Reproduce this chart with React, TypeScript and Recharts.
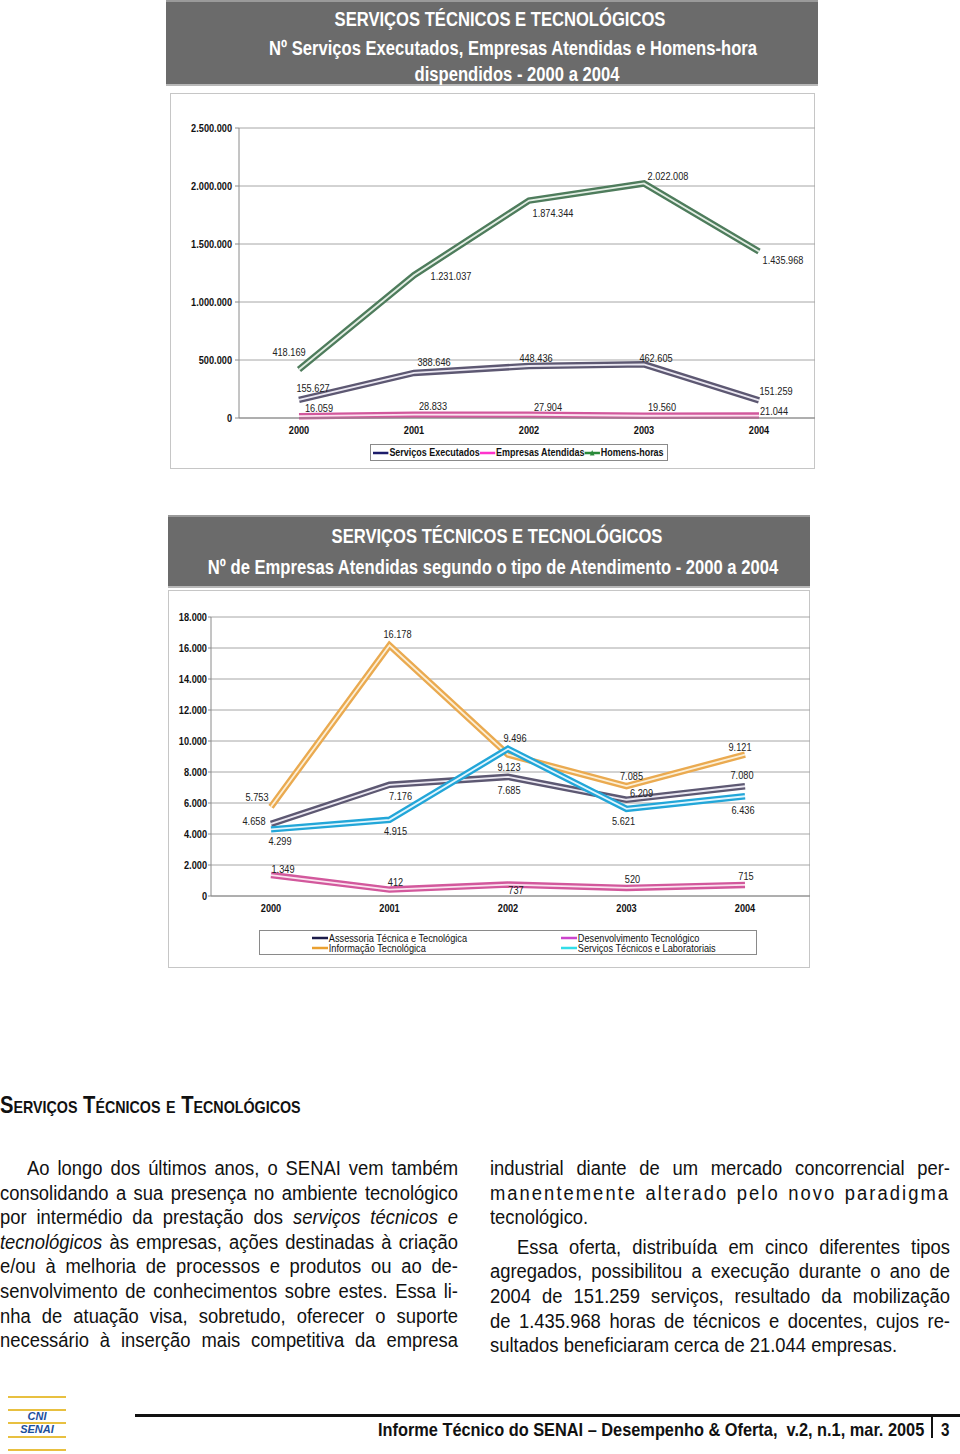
import React from 'react';
import { LineChart, Line, XAxis, YAxis, CartesianGrid } from 'recharts';

const years = ['2000', '2001', '2002', '2003', '2004'];

// Chart 1: serviços, empresas e homens-hora
const servicosExecutados = [155627, 388646, 448436, 462605, 151259];
const empresasAtendidas = [16059, 28833, 27904, 19560, 21044];
const homensHoras = [418169, 1231037, 1874344, 2022008, 1435968];
const ticks1 = [0, 500000, 1000000, 1500000, 2000000, 2500000];

// Chart 2: empresas por tipo de atendimento
const assessoria = [4658, 7176, 7685, 6209, 7080];
const desenvolvimento = [1349, 412, 737, 520, 715];
const informacao = [5753, 16178, 9123, 7085, 9121];
const servicosLab = [4299, 4915, 9496, 5621, 6436];
const ticks2 = [0, 2000, 4000, 6000, 8000, 10000, 12000, 14000, 16000, 18000];

const data1 = years.map((y, i) => ({
  ano: y,
  servicos: servicosExecutados[i],
  empresas: empresasAtendidas[i],
  homens: homensHoras[i],
}));

const data2 = years.map((y, i) => ({
  ano: y,
  assessoria: assessoria[i],
  desenvolvimento: desenvolvimento[i],
  informacao: informacao[i],
  servicosLab: servicosLab[i],
}));

// no narrow font installed, so Liberation Sans gets squeezed horizontally
const FONT = '"Liberation Sans", Arial, sans-serif';
const SQ = 0.8;

const fmt = (v: number) => String(v).replace(/\B(?=(\d{3})+(?!\d))/g, '.');

// label offsets (dx, dy) from each point
const offHomens = [[-10, -18], [37, 1], [24, 12], [24, -7], [24, 9]];
const offServicos = [[14, -12], [20, -11], [7, -8], [12, -6], [17, -9]];
const offEmpresas = [[20, -8], [19, -9], [19, -8], [18, -9], [15, -5]];

const offInfo = [[-14, -10], [8, -11], [1, 12], [5, -10], [-5, -8]];
const offAssess = [[-17, -3], [11, 11], [1, 13], [15, -7], [-3, -11]];
const offLab = [[9, 12], [6, 11], [7, -11], [-3, 12], [-2, 14]];
const offDesenv = [[12, -6], [6, -8], [8, 5], [6, -9], [1, -9]];

const makeLabel = (offsets: number[][]) => (props: any) => {
  const x = props.x ?? props.viewBox?.x;
  const y = props.y ?? props.viewBox?.y;
  const i = props.index ?? 0;
  const [dx, dy] = offsets[i] || [0, 0];
  if (x == null || y == null) return null;
  return (
    <text
      transform={`translate(${x + dx},${y + dy}) scale(${SQ},1)`}
      textAnchor="middle"
      dy="0.35em"
      fontSize={11.5}
      fontFamily={FONT}
      fill="#222"
    >
      {fmt(props.value)}
    </text>
  );
};

const YTick = (props: any) => (
  <text
    transform={`translate(${props.x},${props.y}) scale(${SQ},1)`}
    textAnchor="end"
    dy="0.35em"
    fontSize={11.5}
    fontWeight={700}
    fontFamily={FONT}
    fill="#111"
  >
    {fmt(props.payload.value)}
  </text>
);

const XTick = (props: any) => (
  <text
    transform={`translate(${props.x},${props.y}) scale(${SQ},1)`}
    textAnchor="middle"
    dy="0.71em"
    fontSize={11.5}
    fontWeight={700}
    fontFamily={FONT}
    fill="#111"
  >
    {props.payload.value}
  </text>
);

const TitleBox = ({ left, top, width, height, lines, tops, center }: any) => (
  <div
    style={{
      position: 'absolute',
      left,
      top,
      width,
      height,
      background: '#6b6b6b',
      borderTop: '2px solid #9a9a9a',
      borderBottom: '2px solid #b8b8b8',
      boxSizing: 'border-box',
    }}
  >
    {lines.map((t: string, i: number) => (
      <span
        key={i}
        style={{
          position: 'absolute',
          left: center[i] - left,
          top: tops[i],
          whiteSpace: 'nowrap',
          transform: 'translateX(-50%) scaleX(0.83)',
          transformOrigin: '50% 50%',
          color: '#fff',
          fontFamily: FONT,
          fontWeight: 700,
          fontSize: 20,
          lineHeight: '22px',
        }}
      >
        {t}
      </span>
    ))}
  </div>
);

const LegendSwatch = ({ color, marker }: any) => (
  <svg width={20} height={8} style={{ marginRight: 1, flex: 'none' }}>
    <line x1={0} y1={4} x2={20} y2={4} stroke={color} strokeWidth={2.5} />
    {marker && <polygon points="10,1 13,6.5 7,6.5" fill={color} />}
  </svg>
);

const leftLines = [
  { t: 'Ao longo dos últimos anos, o SENAI vem também', indent: 27 },
  { t: 'consolidando a sua presença no ambiente tecnológico' },
  { t: 'por intermédio da prestação dos ', it: 'serviços técnicos e' },
  { it0: 'tecnológicos', t: ' às empresas, ações destinadas à criação' },
  { t: 'e/ou à melhoria de processos e produtos ou ao de-' },
  { t: 'senvolvimento de conhecimentos sobre estes. Essa li-' },
  { t: 'nha de atuação visa, sobretudo, oferecer o suporte' },
  { t: 'necessário  à  inserção  mais  competitiva da empresa' },
];

const rightLines = [
  { t: 'industrial diante de um mercado concorrencial per-', y: 0 },
  { t: 'manentemente alterado pelo novo paradigma', y: 1, spread: 2.2 },
  { t: 'tecnológico.', y: 2, last: true },
  { t: 'Essa oferta, distribuída em cinco diferentes tipos', y: 3, indent: 27, extra: 5 },
  { t: 'agregados, possibilitou a execução durante o ano de', y: 4, extra: 5 },
  { t: '2004 de 151.259 serviços, resultado da mobilização', y: 5, extra: 5 },
  { t: 'de 1.435.968 horas de técnicos e docentes, cujos re-', y: 6, extra: 5 },
  { t: 'sultados beneficiaram cerca de 21.044 empresas.', y: 7, extra: 5, last: true },
];

const BSQ = 0.92;
const bodyStyle = (left: number, top: number, width: number, indent: number, last: boolean): any => ({
  position: 'absolute',
  left: left + indent,
  top,
  width: (width - indent) / BSQ,
  transform: `scaleX(${BSQ})`,
  transformOrigin: '0 0',
  fontFamily: FONT,
  fontSize: 20,
  lineHeight: '24px',
  color: '#111',
  textAlign: last ? 'left' : 'justify',
  textAlignLast: last ? 'left' : 'justify',
});

export default function App() {
  return (
    <div
      style={{
        position: 'absolute',
        left: 0,
        top: 0,
        width: 960,
        height: 1454,
        background: '#fff',
        overflow: 'hidden',
      }}
    >
      <TitleBox
        left={166}
        top={0}
        width={652}
        height={86}
        center={[500, 513, 517]}
        tops={[6, 35, 61]}
        lines={[
          'SERVIÇOS TÉCNICOS E TECNOLÓGICOS',
          'Nº Serviços Executados,  Empresas Atendidas e Homens-hora',
          'dispendidos - 2000 a 2004',
        ]}
      />

      {/* chart 1 */}
      <div
        style={{
          position: 'absolute',
          left: 170,
          top: 93,
          width: 645,
          height: 376,
          border: '1px solid #c6c6c6',
          boxSizing: 'border-box',
        }}
      />
      <div style={{ position: 'absolute', left: 170, top: 93 }}>
        <LineChart
          width={645}
          height={376}
          data={data1}
          margin={{ top: 35, right: 0, left: 0, bottom: 0 }}
        >
          <CartesianGrid vertical={false} stroke="#a6a6a6" />
          <XAxis
            dataKey="ano"
            height={51}
            padding={{ left: 60, right: 56 }}
            tickLine={false}
            axisLine={{ stroke: '#8a8a8a' }}
            tick={XTick}
            tickMargin={2}
          />
          <YAxis
            width={69}
            domain={[0, 2500000]}
            ticks={ticks1}
            interval={0}
            tick={YTick}
            tickSize={4}
            tickMargin={3}
            axisLine={{ stroke: '#8a8a8a' }}
            tickLine={{ stroke: '#8a8a8a' }}
          />
          <Line dataKey="empresas" type="linear" stroke="#d2589c" strokeWidth={6.5} dot={false} isAnimationActive={false} />
          <Line dataKey="empresas" type="linear" stroke="#fbe3ef" strokeWidth={1.8} dot={false} isAnimationActive={false} label={makeLabel(offEmpresas)} />
          <Line dataKey="servicos" type="linear" stroke="#5d5872" strokeWidth={6.5} dot={false} isAnimationActive={false} />
          <Line dataKey="servicos" type="linear" stroke="#ebe8f2" strokeWidth={1.8} dot={false} isAnimationActive={false} label={makeLabel(offServicos)} />
          <Line dataKey="homens" type="linear" stroke="#4e7c5c" strokeWidth={6.5} dot={false} isAnimationActive={false} />
          <Line dataKey="homens" type="linear" stroke="#e3eee4" strokeWidth={1.8} dot={false} isAnimationActive={false} label={makeLabel(offHomens)} />
        </LineChart>
      </div>
      <div
        style={{
          position: 'absolute',
          left: 370,
          top: 444,
          width: 298,
          height: 17,
          border: '1px solid #8a8a8a',
          boxSizing: 'border-box',
          fontFamily: FONT,
          fontWeight: 700,
          fontSize: 11.5,
          color: '#111',
          whiteSpace: 'nowrap',
        }}
      >
        <div
          style={{
            position: 'absolute',
            left: 2,
            top: 1,
            display: 'flex',
            alignItems: 'center',
            lineHeight: '13px',
            transform: 'scaleX(0.78)',
            transformOrigin: '0 50%',
          }}
        >
          <LegendSwatch color="#1c1c6a" />
          <span>Serviços Executados</span>
          <LegendSwatch color="#ff33cc" />
          <span>Empresas Atendidas</span>
          <LegendSwatch color="#2a8a3a" marker />
          <span>Homens-horas</span>
        </div>
      </div>

      <TitleBox
        left={168}
        top={515}
        width={642}
        height={73}
        center={[497, 493]}
        tops={[8, 39]}
        lines={[
          'SERVIÇOS TÉCNICOS E TECNOLÓGICOS',
          'Nº de Empresas Atendidas segundo o tipo de Atendimento - 2000 a 2004',
        ]}
      />

      {/* chart 2 */}
      <div
        style={{
          position: 'absolute',
          left: 168,
          top: 590,
          width: 642,
          height: 378,
          border: '1px solid #c6c6c6',
          boxSizing: 'border-box',
        }}
      />
      <div style={{ position: 'absolute', left: 168, top: 590 }}>
        <LineChart
          width={642}
          height={378}
          data={data2}
          margin={{ top: 27, right: 0, left: 0, bottom: 0 }}
        >
          <CartesianGrid vertical={false} stroke="#a6a6a6" />
          <XAxis
            dataKey="ano"
            height={72}
            padding={{ left: 60, right: 65 }}
            tickLine={false}
            axisLine={{ stroke: '#8a8a8a' }}
            tick={XTick}
            tickMargin={2}
          />
          <YAxis
            width={43}
            domain={[0, 18000]}
            ticks={ticks2}
            interval={0}
            tick={YTick}
            tickSize={3}
            tickMargin={1}
            axisLine={{ stroke: '#8a8a8a' }}
            tickLine={{ stroke: '#8a8a8a' }}
          />
          <Line dataKey="desenvolvimento" type="linear" stroke="#d2589c" strokeWidth={6.5} dot={false} isAnimationActive={false} />
          <Line dataKey="desenvolvimento" type="linear" stroke="#fbe3ef" strokeWidth={1.8} dot={false} isAnimationActive={false} label={makeLabel(offDesenv)} />
          <Line dataKey="assessoria" type="linear" stroke="#5d5872" strokeWidth={6.5} dot={false} isAnimationActive={false} />
          <Line dataKey="assessoria" type="linear" stroke="#ebe8f2" strokeWidth={1.8} dot={false} isAnimationActive={false} label={makeLabel(offAssess)} />
          <Line dataKey="informacao" type="linear" stroke="#eaaa50" strokeWidth={6.5} dot={false} isAnimationActive={false} />
          <Line dataKey="informacao" type="linear" stroke="#fcefd6" strokeWidth={1.8} dot={false} isAnimationActive={false} label={makeLabel(offInfo)} />
          <Line dataKey="servicosLab" type="linear" stroke="#22a6d8" strokeWidth={6.5} dot={false} isAnimationActive={false} />
          <Line dataKey="servicosLab" type="linear" stroke="#e2f6fe" strokeWidth={1.8} dot={false} isAnimationActive={false} label={makeLabel(offLab)} />
        </LineChart>
      </div>
      <div
        style={{
          position: 'absolute',
          left: 259,
          top: 930,
          width: 498,
          height: 25,
          border: '1px solid #8a8a8a',
          boxSizing: 'border-box',
          fontFamily: FONT,
          fontSize: 11.5,
          lineHeight: '10px',
          color: '#111',
          whiteSpace: 'nowrap',
        }}
      >
        {[
          { l: 52, t: 2, c: '#1c1c4a', s: 'Assessoria Técnica e Tecnológica' },
          { l: 52, t: 12, c: '#eaa030', s: 'Informação Tecnológica' },
          { l: 301, t: 2, c: '#cc44cc', s: 'Desenvolvimento Tecnológico' },
          { l: 301, t: 12, c: '#33dde8', s: 'Serviços Técnicos e Laboratoriais' },
        ].map((e) => (
          <div
            key={e.s}
            style={{
              position: 'absolute',
              left: e.l,
              top: e.t,
              display: 'flex',
              alignItems: 'center',
              transform: `scaleX(${SQ})`,
              transformOrigin: '0 50%',
            }}
          >
            <LegendSwatch color={e.c} />
            <span>{e.s}</span>
          </div>
        ))}
      </div>

      {/* text section */}
      <div
        style={{
          position: 'absolute',
          left: 0,
          top: 1091,
          fontFamily: FONT,
          fontWeight: 700,
          fontSize: 24,
          fontVariant: 'small-caps',
          color: '#111',
          whiteSpace: 'nowrap',
          transform: 'scaleX(0.84)',
          transformOrigin: '0 0',
        }}
      >
        Serviços Técnicos e Tecnológicos
      </div>

      {leftLines.map((l: any, i: number) => (
        <div key={'l' + i} style={bodyStyle(0, 1156 + i * 24.6, 458, l.indent || 0, false)}>
          {l.it0 && <i>{l.it0}</i>}
          {l.t}
          {l.it && <i>{l.it}</i>}
        </div>
      ))}
      {rightLines.map((l: any, i: number) => (
        <div
          key={'r' + i}
          style={{
            ...bodyStyle(490, 1156 + l.y * 24.6 + (l.extra || 0), 460, l.indent || 0, !!l.last),
            letterSpacing: l.spread ? l.spread : 'normal',
          }}
        >
          {l.t}
        </div>
      ))}

      {/* footer */}
      {[1397, 1410, 1423, 1437, 1450].map((y) => (
        <div
          key={y}
          style={{ position: 'absolute', left: 8, top: y - 1, width: 58, height: 2, background: '#e8c040' }}
        />
      ))}
      <div
        style={{
          position: 'absolute',
          left: 8,
          top: 1410,
          width: 58,
          textAlign: 'center',
          fontFamily: FONT,
          fontWeight: 700,
          fontStyle: 'italic',
          fontSize: 11,
          lineHeight: '13px',
          color: '#1d4f9c',
        }}
      >
        CNI
        <br />
        SENAI
      </div>
      <div style={{ position: 'absolute', left: 135, top: 1414, width: 825, height: 3, background: '#111' }} />
      <div
        style={{
          position: 'absolute',
          right: 36,
          top: 1419,
          fontFamily: FONT,
          fontWeight: 700,
          fontSize: 19,
          lineHeight: '22px',
          color: '#111',
          whiteSpace: 'pre',
          transform: 'scaleX(0.86)',
          transformOrigin: '100% 0',
        }}
      >
        {'Informe Técnico do SENAI – Desempenho & Oferta,  v.2, n.1, mar. 2005'}
      </div>
      <div style={{ position: 'absolute', left: 931, top: 1416, width: 2, height: 22, background: '#111' }} />
      <div
        style={{
          position: 'absolute',
          left: 941,
          top: 1419,
          fontFamily: FONT,
          fontWeight: 700,
          fontSize: 19,
          lineHeight: '22px',
          color: '#111',
          transform: 'scaleX(0.8)',
          transformOrigin: '0 0',
        }}
      >
        3
      </div>
    </div>
  );
}
